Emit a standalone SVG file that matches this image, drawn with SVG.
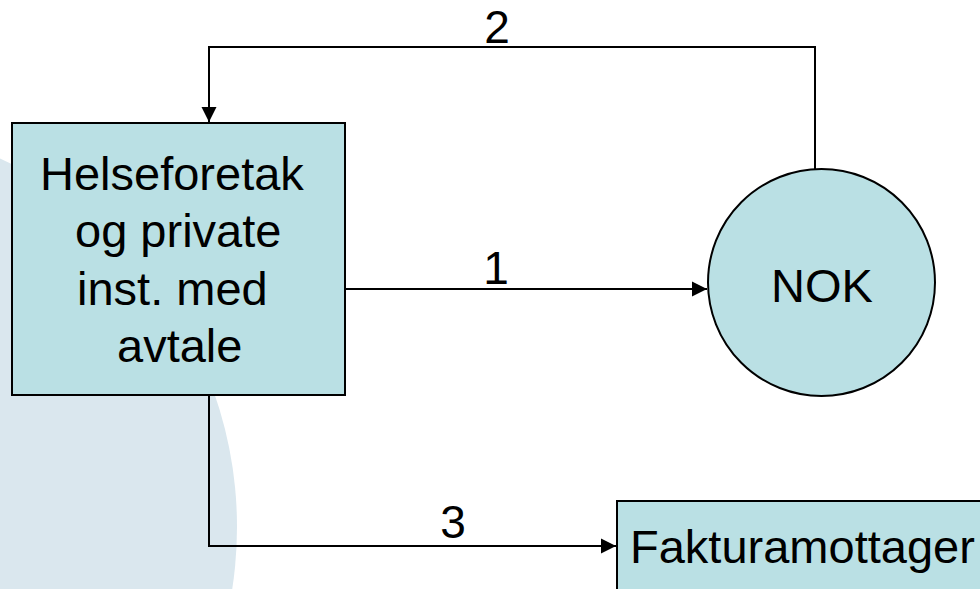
<svg xmlns="http://www.w3.org/2000/svg" width="980" height="589" viewBox="0 0 980 589">
  <style>
    .node { fill: #bae0e4; stroke: #000; stroke-width: 2; }
    .lbl { font-family: "Liberation Sans", Arial, sans-serif; font-size: 47px; fill: #000; }
    .num { font-family: "Liberation Sans", Arial, sans-serif; font-size: 46px; fill: #000; text-anchor: middle; }
    .conn { fill: none; stroke: #000; stroke-width: 2; }
  </style>
  <defs>
    <marker id="arr" markerUnits="userSpaceOnUse" markerWidth="16" markerHeight="16" viewBox="0 0 16 16" refX="15" refY="8" orient="auto">
      <path d="M0,0.5 L15,8 L0,15.5 Z" fill="#000"/>
    </marker>
  </defs>
  <rect x="0" y="0" width="980" height="589" fill="#fff"/>
  <circle cx="-168" cy="527" r="405" fill="#dae7ee"/>

  <g id="connectors">
    <path class="conn" d="M815,169 V47 H209 V122" marker-end="url(#arr)"/>
    <path class="conn" d="M345,289 H707" marker-end="url(#arr)"/>
    <path class="conn" d="M209,395 V546 H616" marker-end="url(#arr)"/>
    <text class="num" x="497" y="43">2</text>
    <text class="num" x="496" y="284">1</text>
    <text class="num" x="453" y="538">3</text>
  </g>

  <g id="node-helseforetak">
    <rect class="node" x="12" y="123" width="333" height="272"/>
    <text class="lbl" x="40" y="190">Helseforetak</text>
    <text class="lbl" x="75" y="247">og private</text>
    <text class="lbl" x="77" y="305">inst. med</text>
    <text class="lbl" x="117" y="362">avtale</text>
  </g>

  <g id="node-nok">
    <circle class="node" cx="821.5" cy="282.5" r="113.5"/>
    <text class="lbl" x="822" y="302" text-anchor="middle">NOK</text>
  </g>

  <g id="node-fakturamottager">
    <rect class="node" x="617" y="501" width="400" height="150"/>
    <text class="lbl" x="630" y="563">Fakturamottager</text>
  </g>
</svg>
